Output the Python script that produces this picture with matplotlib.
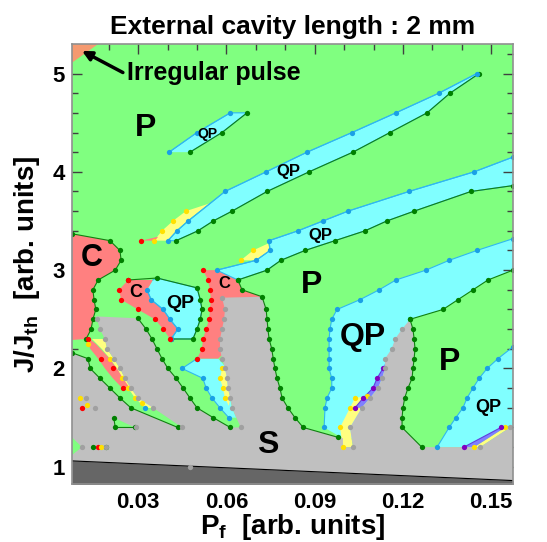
import matplotlib
matplotlib.use("Agg")
import matplotlib.pyplot as plt
from matplotlib.ticker import MultipleLocator

plt.rcParams['font.family'] = ['Liberation Sans', 'DejaVu Sans']
plt.rcParams['font.weight'] = 'bold'
plt.rcParams['mathtext.default'] = 'regular'

# fill colours
GREEN = '#80FF80'; CYAN = '#80FFFF'; RED = '#FF8080'; GRAY = '#C0C0C0'; DARK = '#666666'
YELLOW = '#FFFF80'; PURPLE = '#8080FF'; ORANGE = '#F59A70'
# marker colours
DOT_G = '#008000'; DOT_B = '#1AA0E6'; DOT_R = '#FF0000'; DOT_Y = '#FFE000'
DOT_S = '#A0A0A0'; DOT_P = '#8000C0'

X_MIN, X_MAX = 0.0075, 0.1574
Y_MIN, Y_MAX = 0.825, 5.3

# ---- region boundaries, (Pf, J/Jth) ----
# stable (S) region: upper boundary left -> right
s_top = [(0.0075, 2.16), (0.0129, 2.1), (0.0137, 2.0), (0.0170, 1.9), (0.0204, 1.8), (0.0238, 1.7),
         (0.0275, 1.6), (0.0435, 1.4), (0.0449, 1.4),
         (0.0351, 1.6), (0.0299, 1.7), (0.0275, 1.8), (0.0255, 1.9), (0.0238, 2.0), (0.0217, 2.1),
         (0.0194, 2.2), (0.0187, 2.3), (0.0170, 2.4), (0.0160, 2.5), (0.0156, 2.53),
         (0.0299, 2.51), (0.0327, 2.4), (0.0347, 2.3), (0.0364, 2.2), (0.0381, 2.1), (0.0401, 2.0),
         (0.0429, 1.9), (0.0453, 1.8), (0.0476, 1.7), (0.0500, 1.6), (0.0555, 1.5), (0.0613, 1.4),
         (0.0649, 1.4),
         (0.0629, 1.53), (0.0619, 1.6), (0.0613, 1.7), (0.0605, 1.8), (0.0602, 1.9), (0.0595, 2.0),
         (0.0585, 2.1), (0.0578, 2.2), (0.0578, 2.3), (0.0585, 2.4), (0.0592, 2.5), (0.0595, 2.6),
         (0.0585, 2.72), (0.0724, 2.73),
         (0.0735, 2.6), (0.0738, 2.5), (0.0741, 2.4), (0.0745, 2.3), (0.0754, 2.2), (0.0759, 2.1),
         (0.0765, 2.0), (0.0772, 1.9), (0.0782, 1.8), (0.0789, 1.7), (0.0809, 1.6), (0.0833, 1.5),
         (0.0861, 1.4), (0.0996, 1.29), (0.0996, 1.2), (0.1030, 1.2),
         (0.1020, 1.4), (0.1040, 1.5), (0.1060, 1.6), (0.1088, 1.7), (0.1115, 1.8), (0.1129, 1.9),
         (0.1139, 2.0), (0.1139, 2.1), (0.1162, 2.2), (0.1173, 2.3), (0.1197, 2.4), (0.1224, 2.5),
         (0.1234, 2.4), (0.1238, 2.3), (0.1241, 2.2), (0.1238, 2.1), (0.1234, 2.0), (0.1231, 1.9),
         (0.1217, 1.8), (0.1206, 1.7), (0.1200, 1.6), (0.1197, 1.5), (0.1197, 1.4), (0.1264, 1.2),
         (0.1462, 1.2), (0.1564, 1.4), (0.1574, 1.41), (0.1574, 0.8), (0.0075, 0.8)]
floor_x = [0.0075, 0.1574]
floor_y = [1.06, 0.86]

# quasi-periodic (QP) regions
qp_island = [(0.0405, 4.2), (0.0500, 4.4), (0.0613, 4.6), (0.0670, 4.6), (0.0585, 4.4), (0.0476, 4.2)]
qp_strip1 = [(0.1451, 5.0), (0.1322, 4.8), (0.1176, 4.6), (0.1027, 4.4), (0.0874, 4.2), (0.0735, 4.0),
             (0.0595, 3.8), (0.0470, 3.5), (0.0432, 3.4), (0.0401, 3.3), (0.0429, 3.3), (0.0503, 3.4),
             (0.0555, 3.5), (0.0619, 3.6), (0.0738, 3.8), (0.0881, 4.0), (0.1030, 4.2), (0.1156, 4.4),
             (0.1282, 4.6), (0.1360, 4.8), (0.1459, 5.0)]
qp_strip2 = [(0.1574, 4.15), (0.1442, 4.0), (0.1220, 3.8), (0.1013, 3.6), (0.0928, 3.5), (0.0843, 3.4),
             (0.0745, 3.3), (0.0748, 3.2), (0.0701, 3.1), (0.0567, 3.0), (0.0639, 2.9), (0.0738, 3.0),
             (0.0785, 3.1), (0.0867, 3.2), (0.0969, 3.3), (0.1071, 3.4), (0.1145, 3.5), (0.1238, 3.6),
             (0.1431, 3.8), (0.1574, 3.86)]
qp_strip3 = [(0.1574, 3.32), (0.1451, 3.2), (0.1357, 3.1), (0.1278, 3.0), (0.1176, 2.9), (0.1119, 2.8),
             (0.1054, 2.7), (0.0976, 2.6), (0.0958, 2.5), (0.0952, 2.4), (0.0949, 2.3), (0.0949, 2.2),
             (0.0949, 2.1), (0.0949, 2.0), (0.0958, 1.9), (0.0958, 1.8), (0.0942, 1.7), (0.0935, 1.6),
             (0.0932, 1.4), (0.0996, 1.29), (0.1049, 1.29), (0.1224, 2.5), (0.1336, 2.6), (0.1387, 2.7),
             (0.1438, 2.8), (0.1489, 2.9), (0.1574, 3.0)]
qp_strip4 = [(0.1574, 2.22), (0.1523, 2.1), (0.1486, 2.0), (0.1459, 1.9), (0.1438, 1.8), (0.1418, 1.7),
             (0.1404, 1.6), (0.1380, 1.5), (0.1357, 1.4), (0.1316, 1.2), (0.1407, 1.2), (0.1533, 1.4),
             (0.1574, 1.41)]
qp_fingerB = [(0.0449, 2.0), (0.0500, 2.1), (0.0572, 2.1), (0.0602, 2.0), (0.0605, 1.8), (0.0619, 1.6),
              (0.0633, 1.5), (0.0608, 1.5), (0.0578, 1.6), (0.0551, 1.7), (0.0531, 1.8), (0.0520, 1.9)]
qp_island3 = [(0.0350, 2.9), (0.0364, 2.92), (0.0500, 2.82), (0.0511, 2.7), (0.0517, 2.6), (0.0511, 2.5),
              (0.0500, 2.4), (0.0486, 2.3), (0.0412, 2.3), (0.0435, 2.4), (0.0408, 2.5), (0.0385, 2.6),
              (0.0344, 2.7), (0.0330, 2.8)]
qp_tiny = [(0.0316, 1.63), (0.0340, 1.67), (0.0357, 1.6), (0.0327, 1.6)]

# chaotic (C) regions
c_big = [(0.0075, 3.37), (0.0204, 3.3), (0.0238, 3.2), (0.0242, 3.1), (0.0222, 3.0), (0.0164, 2.9),
         (0.0146, 2.8), (0.0150, 2.7), (0.0156, 2.6), (0.0146, 2.5), (0.0140, 2.4), (0.0123, 2.3),
         (0.0075, 2.29)]
c_mid = [(0.0520, 3.0), (0.0567, 3.0), (0.0639, 2.9), (0.0653, 2.8), (0.0721, 2.73), (0.0628, 2.5),
         (0.0607, 2.2), (0.0572, 2.1), (0.0500, 2.1), (0.0517, 2.2), (0.0520, 2.3), (0.0531, 2.4),
         (0.0541, 2.5), (0.0544, 2.6), (0.0547, 2.7), (0.0544, 2.8), (0.0537, 2.9)]
c_small = [(0.0266, 2.9), (0.0350, 2.9), (0.0330, 2.8), (0.0344, 2.7), (0.0385, 2.6), (0.0408, 2.5),
           (0.0435, 2.4), (0.0412, 2.3), (0.0408, 2.3), (0.0385, 2.4), (0.0357, 2.5), (0.0299, 2.6),
           (0.0242, 2.7), (0.0235, 2.8)]
c_sliver = [(0.0310, 3.3), (0.0368, 3.34), (0.0357, 3.3)]
c_f1 = [(0.0123, 2.33), (0.0156, 2.25), (0.0197, 2.12), (0.0228, 2.0), (0.0248, 1.9), (0.0272, 1.8),
        (0.0252, 1.78), (0.0214, 1.9), (0.0187, 2.0), (0.0164, 2.1), (0.0137, 2.2)]
c_left = [(0.0075, 1.76), (0.0106, 1.73), (0.0137, 1.65), (0.0153, 1.6), (0.0075, 1.6)]
irregular = [(0.0075, 5.3), (0.0164, 5.3), (0.0075, 5.11)]

# yellow / purple bands
y_strip1 = [(0.0354, 3.3), (0.0381, 3.4), (0.0418, 3.5), (0.0462, 3.6), (0.0544, 3.68), (0.0470, 3.51),
            (0.0432, 3.41), (0.0401, 3.3)]
y_strip2 = [(0.0649, 3.1), (0.0690, 3.2), (0.0741, 3.27), (0.0748, 3.2), (0.0701, 3.1)]
y_f1 = [(0.0143, 2.3), (0.0187, 2.3), (0.0194, 2.2), (0.0217, 2.1), (0.0238, 2.0), (0.0255, 1.9),
        (0.0275, 1.8), (0.0299, 1.7), (0.0351, 1.6), (0.0324, 1.6), (0.0289, 1.7), (0.0266, 1.8),
        (0.0245, 1.9), (0.0228, 2.0), (0.0204, 2.1), (0.0176, 2.2)]
y_fingerB = [(0.0585, 2.0), (0.0578, 1.9), (0.0588, 1.8), (0.0595, 1.7), (0.0608, 1.62), (0.0613, 1.7),
             (0.0605, 1.8), (0.0602, 1.9), (0.0595, 2.0)]
y_d = [(0.0996, 1.2), (0.0986, 1.4), (0.1020, 1.6), (0.1037, 1.7), (0.1078, 1.72), (0.1088, 1.7),
       (0.1060, 1.6), (0.1020, 1.4), (0.1030, 1.2)]
y_strip4 = [(0.1442, 1.2), (0.1547, 1.4), (0.1564, 1.4), (0.1462, 1.2)]
y_left = [(0.0106, 1.73), (0.0123, 1.7), (0.0153, 1.6), (0.0129, 1.6), (0.0102, 1.7)]
p_d = [(0.1037, 1.6), (0.1065, 1.7), (0.1098, 1.8), (0.1112, 1.9), (0.1132, 2.0), (0.1139, 2.05),
       (0.1139, 2.0), (0.1129, 1.9), (0.1115, 1.8), (0.1088, 1.7), (0.1060, 1.6)]
p_strip4 = [(0.1407, 1.2), (0.1533, 1.4), (0.1547, 1.4), (0.1442, 1.2)]

# small periodic patches inside S
g_tri1 = [(0.0217, 1.5), (0.0222, 1.4), (0.0289, 1.4)]
g_tri2 = [(0.0075, 1.3), (0.0109, 1.2), (0.0075, 1.12)]

# ---- computed points along the boundaries ----
pts_green = [
    [(0.0476, 4.2), (0.0585, 4.4), (0.0670, 4.6)],
    [(0.0429, 3.3), (0.0503, 3.4), (0.0555, 3.5), (0.0619, 3.6), (0.0738, 3.8), (0.0881, 4.0),
     (0.1030, 4.2), (0.1156, 4.4), (0.1282, 4.6), (0.1360, 4.8), (0.1459, 5.0)],
    [(0.0639, 2.9), (0.0738, 3.0), (0.0785, 3.1), (0.0867, 3.2), (0.0969, 3.3), (0.1071, 3.4),
     (0.1145, 3.5), (0.1238, 3.6), (0.1431, 3.8), (0.1574, 3.86)],
    [(0.1224, 2.5), (0.1336, 2.6), (0.1387, 2.7), (0.1438, 2.8), (0.1489, 2.9), (0.1574, 3.0)],
    [(0.0075, 3.37), (0.0204, 3.3), (0.0238, 3.2), (0.0242, 3.1), (0.0222, 3.0), (0.0164, 2.9),
     (0.0146, 2.8), (0.0150, 2.7), (0.0156, 2.6), (0.0146, 2.5), (0.0140, 2.4), (0.0123, 2.3)],
    [(0.0266, 2.9), (0.0364, 2.92), (0.0500, 2.82), (0.0511, 2.7), (0.0517, 2.6), (0.0511, 2.5),
     (0.0500, 2.4), (0.0486, 2.3), (0.0412, 2.3)],
    [(0.0075, 2.16), (0.0129, 2.1), (0.0137, 2.0), (0.0170, 1.9), (0.0204, 1.8), (0.0238, 1.7),
     (0.0275, 1.6), (0.0435, 1.4)],
    [(0.0299, 2.51), (0.0327, 2.4), (0.0347, 2.3), (0.0364, 2.2), (0.0381, 2.1), (0.0401, 2.0),
     (0.0429, 1.9), (0.0453, 1.8), (0.0476, 1.7), (0.0500, 1.6), (0.0555, 1.5), (0.0613, 1.4)],
    [(0.0639, 2.9), (0.0653, 2.8), (0.0721, 2.73), (0.0735, 2.6), (0.0738, 2.5), (0.0741, 2.4),
     (0.0745, 2.3), (0.0754, 2.2), (0.0759, 2.1), (0.0765, 2.0), (0.0772, 1.9), (0.0782, 1.8),
     (0.0789, 1.7), (0.0809, 1.6), (0.0833, 1.5), (0.0861, 1.4), (0.0979, 1.3)],
    [(0.1224, 2.5), (0.1234, 2.4), (0.1238, 2.3), (0.1241, 2.2), (0.1238, 2.1), (0.1234, 2.0),
     (0.1231, 1.9), (0.1217, 1.8), (0.1206, 1.7), (0.1200, 1.6), (0.1197, 1.5), (0.1197, 1.4),
     (0.1264, 1.2)],
    [(0.0289, 1.4), (0.0222, 1.4), (0.0217, 1.5)],
    [(0.0146, 1.2), (0.0190, 1.2)],
]
pts_blue = [
    [(0.0405, 4.2), (0.0500, 4.4), (0.0613, 4.6)],
    [(0.1451, 5.0), (0.1322, 4.8), (0.1176, 4.6), (0.1027, 4.4), (0.0874, 4.2), (0.0735, 4.0),
     (0.0595, 3.8), (0.0470, 3.5), (0.0432, 3.4), (0.0401, 3.3)],
    [(0.1574, 4.15), (0.1442, 4.0), (0.1220, 3.8), (0.1013, 3.6), (0.0928, 3.5), (0.0843, 3.4),
     (0.0745, 3.3), (0.0748, 3.2), (0.0701, 3.1), (0.0567, 3.0)],
    [(0.1574, 3.32), (0.1451, 3.2), (0.1357, 3.1), (0.1278, 3.0), (0.1176, 2.9), (0.1119, 2.8),
     (0.1054, 2.7), (0.0976, 2.6), (0.0958, 2.5), (0.0952, 2.4), (0.0949, 2.3), (0.0949, 2.2),
     (0.0949, 2.1), (0.0949, 2.0), (0.0958, 1.9), (0.0958, 1.8), (0.0942, 1.7), (0.0935, 1.6),
     (0.0932, 1.4)],
    [(0.1574, 2.22), (0.1523, 2.1), (0.1486, 2.0), (0.1459, 1.9), (0.1438, 1.8), (0.1418, 1.7),
     (0.1404, 1.6), (0.1380, 1.5), (0.1357, 1.4), (0.1316, 1.2)],
    [(0.0500, 2.1), (0.0449, 2.0), (0.0520, 1.9), (0.0531, 1.8), (0.0551, 1.7), (0.0578, 1.6),
     (0.0608, 1.5)],
    [(0.0330, 2.8), (0.0344, 2.7), (0.0385, 2.6), (0.0408, 2.5), (0.0435, 2.4), (0.0412, 2.3)],
    [(0.0324, 1.6)],
]
pts_red = [
    [(0.0500, 2.1), (0.0517, 2.2), (0.0520, 2.3), (0.0531, 2.4), (0.0541, 2.5), (0.0544, 2.6),
     (0.0547, 2.7), (0.0544, 2.8), (0.0537, 2.9), (0.0520, 3.0)],
    [(0.0266, 2.9), (0.0235, 2.8), (0.0242, 2.7), (0.0299, 2.6), (0.0357, 2.5), (0.0385, 2.4),
     (0.0408, 2.3)],
    [(0.0129, 2.3), (0.0173, 2.1), (0.0214, 2.0), (0.0248, 1.8)],
    [(0.0310, 3.3)], [(0.0109, 1.6)], [(0.0164, 1.2)],
]
pts_yellow = [
    [(0.0354, 3.3), (0.0381, 3.4), (0.0418, 3.5), (0.0462, 3.6)],
    [(0.0649, 3.1), (0.0690, 3.2)],
    [(0.0129, 2.25), (0.0204, 2.1), (0.0245, 1.9), (0.0266, 1.8), (0.0289, 1.7), (0.0313, 1.65)],
    [(0.0585, 2.0), (0.0578, 1.9), (0.0588, 1.8), (0.0595, 1.7)],
    [(0.0996, 1.2), (0.0986, 1.4), (0.1020, 1.6), (0.1037, 1.7), (0.1078, 1.72)],
    [(0.1442, 1.2), (0.1547, 1.4)],
    [(0.0102, 1.7), (0.0126, 1.63)], [(0.0173, 1.2)],
]
pts_purple = [
    [(0.1037, 1.6), (0.1065, 1.7), (0.1098, 1.8), (0.1112, 1.9), (0.1132, 2.0)],
    [(0.1407, 1.2), (0.1533, 1.4)],
]
pts_gray = [
    [(0.0160, 2.5), (0.0170, 2.4), (0.0187, 2.3), (0.0194, 2.2), (0.0217, 2.1), (0.0238, 2.0),
     (0.0255, 1.9), (0.0275, 1.8), (0.0299, 1.7), (0.0351, 1.6), (0.0449, 1.4)],
    [(0.0585, 2.72), (0.0595, 2.6), (0.0592, 2.5), (0.0585, 2.4), (0.0578, 2.3), (0.0578, 2.2),
     (0.0585, 2.1), (0.0595, 2.0), (0.0602, 1.9), (0.0605, 1.8), (0.0613, 1.7), (0.0619, 1.6),
     (0.0649, 1.4)],
    [(0.1030, 1.2), (0.1020, 1.4), (0.1060, 1.6), (0.1088, 1.7), (0.1115, 1.8), (0.1129, 1.9),
     (0.1139, 2.0), (0.1139, 2.1), (0.1162, 2.2), (0.1173, 2.3), (0.1197, 2.4)],
    [(0.1462, 1.2)], [(0.1564, 1.4)], [(0.0293, 1.4)], [(0.0153, 1.6)], [(0.0123, 1.7)],
    [(0.0109, 1.2)], [(0.0190, 1.2)], [(0.0476, 1.0)],
]

# region labels: (text, Pf, J, size)
labels = [('P', 0.0324, 4.45, 23), ('P', 0.0888, 2.85, 23), ('P', 0.1357, 2.07, 23),
          ('QP', 0.1065, 2.32, 23), ('C', 0.0143, 3.12, 22), ('S', 0.0741, 1.22, 23),
          ('C', 0.0293, 2.77, 13), ('QP', 0.0442, 2.66, 14), ('C', 0.0592, 2.86, 12),
          ('QP', 0.0534, 4.38, 10), ('QP', 0.0809, 4.00, 12), ('QP', 0.0918, 3.35, 12),
          ('QP', 0.1489, 1.60, 13)]


def fill(ax, poly, color, z):
    xs, ys = zip(*poly)
    ax.fill(xs, ys, color=color, lw=0, zorder=z)


fig = plt.figure(figsize=(5.47, 5.42), dpi=100)
ax = fig.add_axes([0.1316, 0.1070, 0.8062, 0.8118])
ax.set_facecolor(GREEN)

for poly in [qp_island, qp_strip1, qp_strip2, qp_strip3, qp_strip4, qp_fingerB, qp_island3, qp_tiny]:
    fill(ax, poly, CYAN, 1)
for poly in [y_strip1, y_strip2, y_f1, y_fingerB, y_d, y_strip4, y_left]:
    fill(ax, poly, YELLOW, 2)
for poly in [c_big, c_mid, c_small, c_sliver, c_f1, c_left]:
    fill(ax, poly, RED, 3)
fill(ax, irregular, ORANGE, 3)
for poly in [p_d, p_strip4]:
    fill(ax, poly, PURPLE, 4)
fill(ax, s_top, GRAY, 5)
for poly in [g_tri1, g_tri2]:
    fill(ax, poly, GREEN, 6)
ax.fill_between(floor_x, floor_y, 0.8, color=DARK, lw=0, zorder=7)
ax.plot(floor_x, floor_y, color='black', lw=0.8, zorder=7.5)

# outlines of the closed QP islands
for poly in [qp_island, qp_strip1, qp_strip2, qp_island3]:
    xs, ys = zip(*poly)
    ax.plot(xs, ys, color='#30B8F0', lw=0.8, zorder=7.6)

for groups, lc, mc in [(pts_green, '#108010', DOT_G), (pts_blue, '#30B8F0', DOT_B),
                       (pts_red, None, DOT_R), (pts_yellow, None, DOT_Y),
                       (pts_purple, '#6040E0', DOT_P), (pts_gray, None, DOT_S)]:
    for pts in groups:
        xs, ys = zip(*pts)
        if lc is not None and len(pts) > 1:
            ax.plot(xs, ys, color=lc, lw=0.8, zorder=8)
        ax.plot(xs, ys, 'o', color=mc, ms=3.8, mec='none', zorder=9)

for txt, x, y, size in labels:
    ax.text(x, y, txt, fontsize=size, fontweight='bold', ha='center', va='center', zorder=10)

ax.annotate('', xy=(0.0109, 5.23), xytext=(0.0248, 5.01), zorder=10,
            arrowprops=dict(arrowstyle='-|>', color='black', lw=2.5, mutation_scale=14,
                            shrinkA=0, shrinkB=0))
ax.text(0.0262, 5.01, 'Irregular pulse', fontsize=18, fontweight='bold', ha='left', va='center',
        zorder=10)

ax.set_xlim(X_MIN, X_MAX)
ax.set_ylim(Y_MIN, Y_MAX)
ax.set_xticks([0.03, 0.06, 0.09, 0.12, 0.15])
ax.set_xticklabels(['0.03', '0.06', '0.09', '0.12', '0.15'])
ax.set_yticks([1, 2, 3, 4, 5])
ax.xaxis.set_minor_locator(MultipleLocator(0.01))
ax.yaxis.set_minor_locator(MultipleLocator(0.2))
ax.tick_params(which='both', direction='in', top=True, right=True, color='#404040', width=1)
ax.tick_params(which='major', length=7, labelsize=16)
ax.tick_params(which='minor', length=4)
ax.tick_params(axis='x', pad=6)
ax.tick_params(axis='y', pad=5)
for sp in ax.spines.values():
    sp.set_color('#909090')
    sp.set_linewidth(1.2)
    sp.set_zorder(11)

ax.set_xlabel('P$_f$  [arb. units]', fontsize=20, fontweight='bold', labelpad=-1)
ax.set_ylabel('J/J$_{th}$  [arb. units]', fontsize=20, fontweight='bold', labelpad=8)
ax.set_title('External cavity length : 2 mm', fontsize=19, fontweight='bold', pad=7)

fig.savefig('out.png', dpi=100)
